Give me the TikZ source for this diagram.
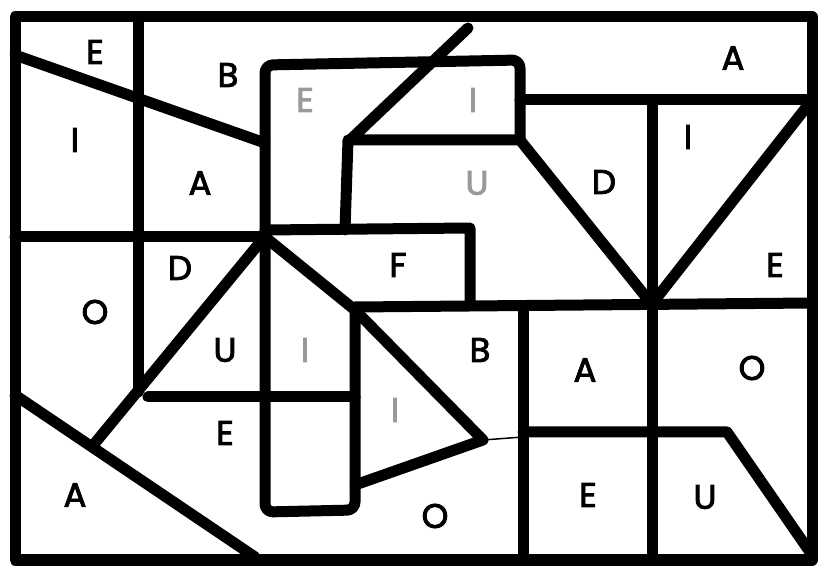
\documentclass[tikz,border=0pt]{standalone}
\usepackage{fontspec}
\setmainfont{Poppins}[UprightFeatures={FakeBold=2.6}]
\begin{document}
\begin{tikzpicture}[x=1pt,y=-1pt,
  wall/.style={line width=11pt,line join=round,line cap=round},
  thin/.style={line width=1.5pt},
  lt/.style={font=\fontsize{34}{34}\selectfont,inner sep=0pt},
  faint/.style={lt,text=black!40}]
\useasboundingbox[fill=white] (0,0) rectangle (823,569);
% frame
\draw[wall] (15,17) rectangle (812,560);
% left area
\draw[wall] (138,17) -- (138,392);
\draw[wall] (15,55) -- (265,143);
\draw[wall] (15,237) -- (265,237);
\draw[wall] (148,397) -- (355,397);
\draw[wall] (262,240) -- (95,443);
\draw[wall] (15,395) -- (255,557);
% central tall box
\draw[wall,rounded corners=8pt] (355,310) -- (355,510) -- (265,512) -- (265,65) -- (520,60) -- (520,140);
\draw[wall] (520,100) -- (812,100);
\draw[wall] (345,230) -- (348,140) -- (520,140) -- (650,302);
\draw[wall] (350,140) -- (468,28);
\draw[wall] (265,230) -- (470,228) -- (470,303);
% right area
\draw[wall] (652,100) -- (652,560);
\draw[wall] (812,100) -- (655,300);
\draw[wall] (355,307) -- (812,303);
\draw[wall] (523,307) -- (523,560);
\draw[wall] (523,432) -- (727,432) -- (812,555);
% triangle
\draw[wall] (265,237) -- (355,310) -- (483,440) -- (355,485);
\draw[thin] (483,440) -- (523,437);
% letters
\node[lt] (l1) at (95,52) {E};
\node[lt] (l2) at (228,75) {B};
\node[faint] (l3) at (305,100) {E};
\node[faint] (l4) at (473,100) {I};
\node[lt] (l5) at (733,58) {A};
\node[lt] (l6) at (75,140) {I};
\node[lt] (l7) at (200,183) {A};
\node[faint] (l8) at (477,183) {U};
\node[lt] (l9) at (604,182) {D};
\node[lt] (l10) at (688,137) {I};
\node[lt] (l11) at (180,268) {D};
\node[lt] (l12) at (398,265) {F};
\node[lt] (l13) at (775,265) {E};
\node[lt] (l14) at (95,312) {O};
\node[lt] (l15) at (225,350) {U};
\node[faint] (l16) at (305,350) {I};
\node[lt] (l17) at (480,350) {B};
\node[lt] (l18) at (585,370) {A};
\node[lt] (l19) at (752,368) {O};
\node[lt] (l20) at (225,433) {E};
\node[faint] (l21) at (395,410) {I};
\node[lt] (l22) at (75,495) {A};
\node[lt] (l23) at (435,516) {O};
\node[lt] (l24) at (588,495) {E};
\node[lt] (l25) at (705,497) {U};
\end{tikzpicture}
\end{document}
